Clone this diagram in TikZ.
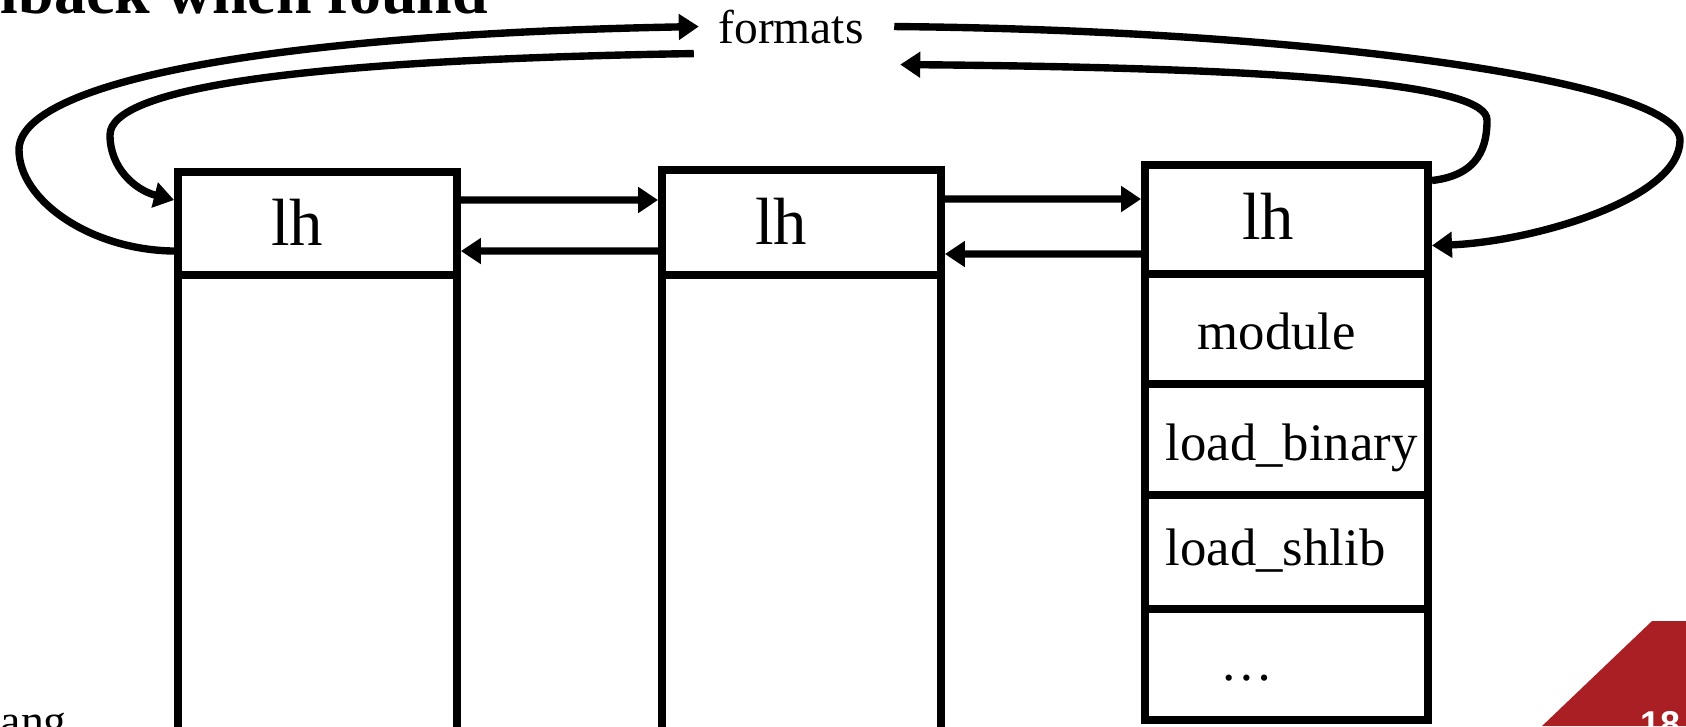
\documentclass[tikz,border=0pt]{standalone}
\usepackage{fontspec}
\setmainfont{Liberation Serif}
\newfontfamily\numfont{Liberation Sans}
\usepackage{tikz}
\usetikzlibrary{positioning, arrows.meta, calc}
\usepackage{xcolor}
\definecolor{slidered}{RGB}{169,31,36}

\begin{document}
\begin{tikzpicture}[x=0.01cm, y=-0.01cm,
    cell/.style={draw, line width=2.2pt, inner sep=0pt, minimum width=2.79cm},
    arr/.style={line width=2.1pt, -{Triangle[length=2mm, width=2.5mm]}},
    big/.style={font=\fontsize{19}{23}\selectfont, inner sep=0pt, anchor=base},
    txt/.style={font=\fontsize{15}{18}\selectfont, inner sep=0pt}]
    \useasboundingbox (0,0) rectangle (1686,726);
    \clip (0,0) rectangle (1686,726);

    % Slide leftovers
    \node[font=\fontsize{18.2}{22}\selectfont\bfseries, inner sep=0pt, anchor=base west] (title) at (0,13) {lback when found};
    \node[font=\fontsize{13}{16}\selectfont, inner sep=0pt, anchor=base west] (author) at (0,736) {ang};
    \fill[slidered] (1652,621) -- (1686,621) -- (1686,726) -- (1542,726) -- cycle;
    \node[font=\fontsize{10.2}{12}\selectfont\numfont\bfseries, text=white, inner sep=0pt, anchor=base west] (page) at (1640,736) {18};

    % Handler boxes
    \node[cell, minimum height=1.03cm] (c1) at (317.5,223.5) {};
    \node[cell, minimum height=4.65cm] (d1) at (317.5,507.5) {};
    \node[cell, minimum height=1.05cm] (c2) at (801.5,222.5) {};
    \node[cell, minimum height=4.65cm] (d2) at (801.5,507.5) {};
    \node[cell, minimum width=2.83cm, minimum height=1.09cm] (c3) at (1286.5,219.5) {};
    \node[cell, minimum width=2.83cm, minimum height=1.10cm] (m3) at (1286.5,329) {};
    \node[cell, minimum width=2.83cm, minimum height=1.11cm] (b3) at (1286.5,439.5) {};
    \node[cell, minimum width=2.83cm, minimum height=1.14cm] (s3) at (1286.5,552) {};
    \node[cell, minimum width=2.83cm, minimum height=1.11cm] (e3) at (1286.5,664.5) {};

    % Labels
    \node[big] (lh1) at (297,245) {lh};
    \node[big] (lh2) at (781,244) {lh};
    \node[big] (lh3) at (1268,239) {lh};
    \node[txt, anchor=base west] (mod) at (1197,349) {module};
    \node[txt, anchor=base west] (bin) at (1165,460) {load\_binary};
    \node[txt, anchor=base west] (shl) at (1165,565) {load\_shlib};
    \node[txt, anchor=base] (dots) at (1247,680) {…};
    \node[font=\fontsize{13.5}{16}\selectfont, inner sep=0pt, anchor=base] (fmt) at (791,43) {formats};

    % Links between boxes
    \draw[arr] ([yshift=2.35mm]c1.east) -- ([yshift=2.25mm]c2.west);
    \draw[arr] ([yshift=-2.85mm]c2.west) -- ([yshift=-2.75mm]c1.east);
    \draw[arr] ([yshift=2.35mm]c2.east) -- ([yshift=2.05mm]c3.west);
    \draw[arr] ([yshift=-3.45mm]c3.west) -- ([yshift=-3.15mm]c2.east);

    % Links through formats
    \draw[arr] ([yshift=-2.75mm]c1.west) .. controls (90,250) and (19,200) .. (19,150)
        .. controls (19,85) and (250,35) .. ([xshift=-1.9mm]fmt.west);
    \draw[arr] ([xshift=-2.4mm,yshift=-2.7mm]fmt.west) .. controls (300,60) and (110,88) .. (110,135)
        .. controls (110,168) and (135,190) .. ([yshift=2.35mm]c1.west);
    \draw[arr] ([xshift=3mm]fmt.east) .. controls (1300,30) and (1680,80) .. (1680,140)
        .. controls (1680,200) and (1530,242) .. ([yshift=-2.6mm]c3.east);
    \draw[arr] ([yshift=3.9mm]c3.east) .. controls (1480,175) and (1487,145) .. (1487,120)
        .. controls (1487,85) and (1300,68) .. ([xshift=3.6mm,yshift=-3.8mm]fmt.east);
\end{tikzpicture}
\end{document}
